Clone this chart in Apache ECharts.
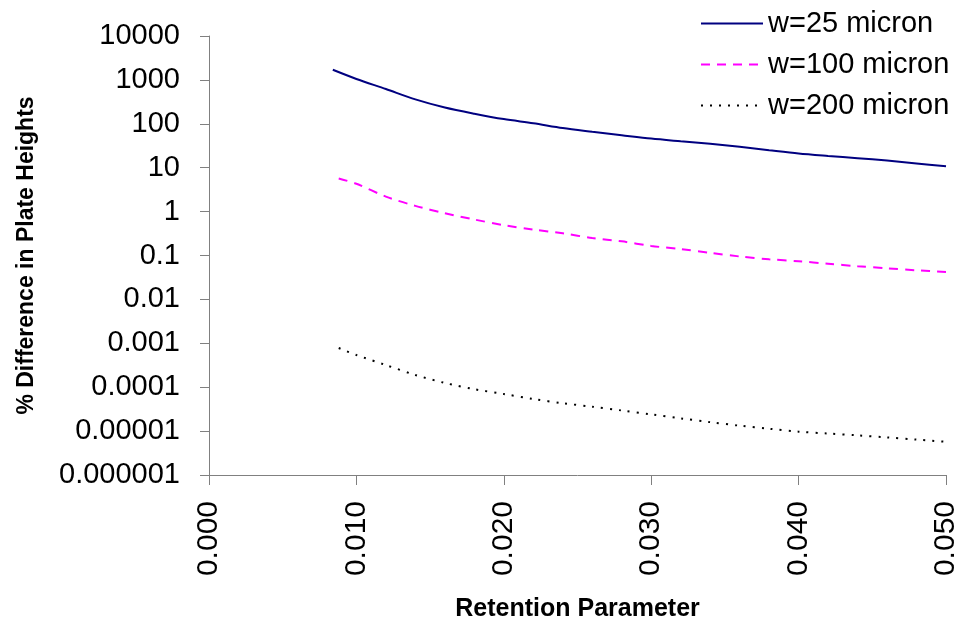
<!DOCTYPE html>
<html>
<head>
<meta charset="utf-8">
<script src="https://cdn.jsdelivr.net/npm/echarts@6/dist/echarts.min.js"></script>
<style>
  html, body { margin: 0; padding: 0; background: #fff; }
  #chart { width: 963px; height: 627px; }
</style>
</head>
<body>
<div id="chart"></div>
<script>
// retention parameter values (x) for each curve
const rp25 = [0.0084, 0.010, 0.012, 0.014, 0.016, 0.018, 0.020, 0.022, 0.024, 0.026, 0.028, 0.030, 0.032, 0.034, 0.036, 0.038, 0.040, 0.042, 0.044, 0.046, 0.048, 0.050]
const rp100 = [0.0088, 0.010, 0.012, 0.014, 0.016, 0.018, 0.020, 0.022, 0.024, 0.026, 0.028, 0.030, 0.032, 0.034, 0.036, 0.038, 0.040, 0.042, 0.044, 0.046, 0.048, 0.050]
const rp200 = rp100

// % difference in plate heights
const w25 = [1700, 1050, 620, 360, 235, 170, 128, 103, 80, 66, 55, 46, 40, 35, 30, 25, 21, 18.5, 16.5, 14.5, 12.5, 10.8]
const w100 = [5.7, 4.3, 2.2, 1.35, 0.92, 0.66, 0.49, 0.39, 0.32, 0.25, 0.21, 0.165, 0.14, 0.115, 0.095, 0.082, 0.074, 0.065, 0.057, 0.051, 0.046, 0.042]
const w200 = [7.8e-4, 5.4e-4, 3.2e-4, 1.9e-4, 1.25e-4, 9.0e-5, 7.0e-5, 5.4e-5, 4.3e-5, 3.6e-5, 2.95e-5, 2.4e-5, 1.95e-5, 1.6e-5, 1.33e-5, 1.13e-5, 9.7e-6, 8.8e-6, 8.0e-6, 7.2e-6, 6.4e-6, 5.7e-6]

const seriesNames = ['w=25 micron', 'w=100 micron', 'w=200 micron']
const yTickLabels = ['0.000001', '0.00001', '0.0001', '0.001', '0.01', '0.1', '1', '10', '100', '1000', '10000']

const zip = (xs, ys) => xs.map((x, i) => [x, ys[i]])

const font = 'Liberation Sans, Arial, sans-serif'

const option = {
  animation: false,
  backgroundColor: '#fff',
  grid: { left: 209, right: 17, top: 36, bottom: 151 },
  legend: {
    orient: 'vertical',
    left: 695,
    top: 4,
    itemWidth: 62,
    itemHeight: 14,
    itemGap: 12,
    itemStyle: { opacity: 0 },
    textStyle: { fontFamily: font, fontSize: 29, color: '#000' },
    data: seriesNames
  },
  xAxis: {
    type: 'value',
    min: 0,
    max: 0.05,
    interval: 0.01,
    name: 'Retention Parameter',
    nameLocation: 'middle',
    nameGap: 122,
    nameTextStyle: { fontFamily: font, fontSize: 25, fontWeight: 'bold', color: '#000' },
    axisLine: { lineStyle: { color: '#808080', width: 1 } },
    axisTick: { show: true, length: 10, lineStyle: { color: '#808080' } },
    axisLabel: {
      rotate: 90,
      margin: 26,
      fontFamily: font,
      fontSize: 30,
      color: '#000',
      formatter: v => v.toFixed(3)
    },
    splitLine: { show: false }
  },
  yAxis: {
    type: 'log',
    logBase: 10,
    min: 1e-6,
    max: 1e4,
    interval: 1,
    name: '% Difference in Plate Heights',
    nameLocation: 'middle',
    nameGap: 171,
    nameTextStyle: { fontFamily: font, fontSize: 23, fontWeight: 'bold', color: '#000' },
    axisLine: { show: true, lineStyle: { color: '#808080', width: 1 } },
    axisTick: { show: true, length: 9, lineStyle: { color: '#808080' } },
    axisLabel: {
      interval: 0,
      margin: 29,
      fontFamily: font,
      fontSize: 29,
      color: '#000',
      formatter: v => yTickLabels[Math.round(Math.log10(v)) + 6]
    },
    splitLine: { show: false }
  },
  series: [
    {
      name: seriesNames[0],
      type: 'line',
      symbol: 'none',
      smooth: 0.3,
      lineStyle: { color: '#000080', width: 2, type: 'solid' },
      itemStyle: { color: '#000080' },
      data: zip(rp25, w25)
    },
    {
      name: seriesNames[1],
      type: 'line',
      symbol: 'none',
      smooth: 0.3,
      lineStyle: { color: '#ff00ff', width: 2, type: [9, 7] },
      itemStyle: { color: '#ff00ff' },
      data: zip(rp100, w100)
    },
    {
      name: seriesNames[2],
      type: 'line',
      symbol: 'none',
      smooth: 0.3,
      lineStyle: { color: '#000', width: 2, type: [2, 7] },
      itemStyle: { color: '#000' },
      data: zip(rp200, w200)
    }
  ]
}

const chart = echarts.init(document.getElementById('chart'))
chart.setOption(option)
</script>
</body>
</html>
